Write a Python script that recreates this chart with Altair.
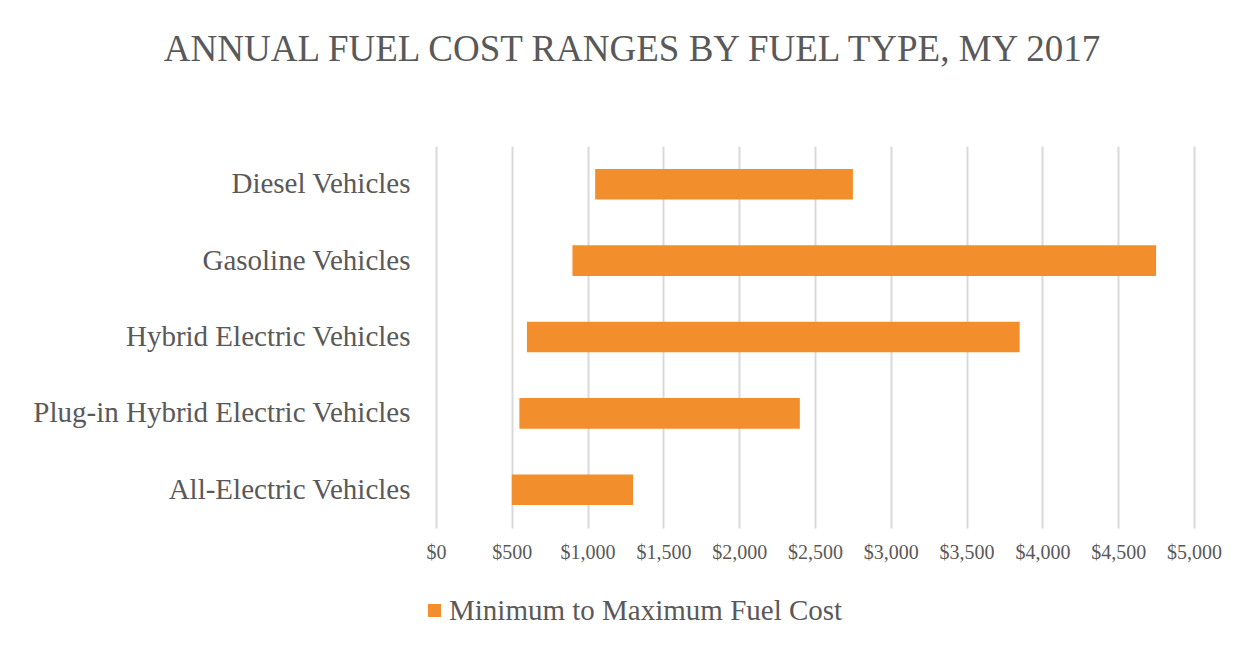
import altair as alt
import pandas as pd

categories = ["Diesel Vehicles", "Gasoline Vehicles", "Hybrid Electric Vehicles",
              "Plug-in Hybrid Electric Vehicles", "All-Electric Vehicles"]
min_cost = [1050, 900, 600, 550, 500]
max_cost = [2750, 4750, 3850, 2400, 1300]
tick_values = [0, 500, 1000, 1500, 2000, 2500, 3000, 3500, 4000, 4500, 5000]
series_name = "Minimum to Maximum Fuel Cost"

df = pd.DataFrame({
    "Fuel Type": categories,
    "Min": min_cost,
    "Max": max_cost,
    "Series": [series_name] * len(categories),
})

FONT = "Liberation Serif"
TEXT = "#595959"

chart = alt.Chart(df).mark_bar(color="#F28E2B").encode(
    y=alt.Y("Fuel Type:N", sort=categories, title=None,
            scale=alt.Scale(paddingInner=0.6, paddingOuter=0.3),
            axis=alt.Axis(labelFontSize=29, labelColor=TEXT, labelFont=FONT,
                          labelPadding=26, ticks=False, domain=False,
                          labelLimit=600, grid=False)),
    x=alt.X("Min:Q", title=None,
            scale=alt.Scale(domain=[0, 5000], nice=False),
            axis=alt.Axis(values=tick_values, format="$,.0f",
                          labelFontSize=20, labelColor=TEXT, labelFont=FONT,
                          labelPadding=14, ticks=False, domain=False,
                          labelOverlap=False, labelFlush=False,
                          grid=True, gridColor="#D9D9D9", gridWidth=2)),
    x2="Max:Q",
    color=alt.Color("Series:N", title=None,
                    scale=alt.Scale(domain=[series_name], range=["#F28E2B"]),
                    legend=alt.Legend(orient="none", legendX=-16, legendY=450,
                                      symbolType="square", symbolSize=169,
                                      symbolStrokeWidth=0, labelFontSize=29,
                                      labelFont=FONT, labelColor=TEXT,
                                      labelOffset=0, padding=0, labelLimit=800)),
).properties(
    width=758,
    height=382,
    title=alt.TitleParams("ANNUAL FUEL COST RANGES BY FUEL TYPE, MY 2017",
                          fontSize=37, font=FONT, color=TEXT, fontWeight="normal",
                          anchor="middle", frame="group", dx=-183,
                          baseline="alphabetic", offset=48),
    autosize=alt.AutoSizeParams(type="none"),
    padding={"left": 428, "top": 138, "right": 50, "bottom": 110},
).configure(background="white").configure_view(strokeWidth=0)

chart.save("out.html", embed_options={"renderer": "svg", "actions": False})
